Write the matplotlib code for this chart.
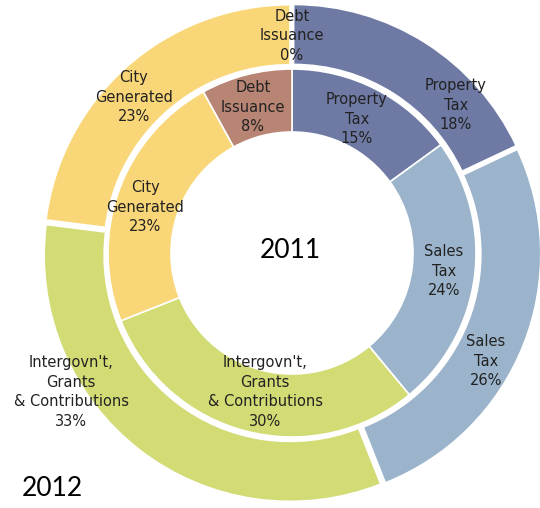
import matplotlib
matplotlib.use("Agg")
import matplotlib.pyplot as plt

# revenue sources, clockwise from 12 o'clock
sources = ["Property\nTax", "Sales\nTax", "Intergovn't,\nGrants\n& Contributions",
           "City\nGenerated", "Debt\nIssuance"]
share_2011 = [15, 24, 30, 23, 8]
share_2012 = [18, 26, 33, 23, 0]
colors = ["#6e7aa3", "#9bb4cc", "#d2db74", "#f9d677", "#b88473"]

# label centres (pixels, from top-left)
pos_2011 = [(357, 119), (444, 271), (265, 392), (145, 207), (253, 107)]
pos_2012 = [(456, 105), (486, 361), (71, 392), (134, 97), (292, 36)]

W, H = 540, 508
fig = plt.figure(figsize=(W / 100, H / 100), dpi=100)
ax = fig.add_axes([0, 0, 1, 1])
ax.set_xlim(0, W)
ax.set_ylim(0, H)
ax.set_aspect("equal")
ax.axis("off")

cx, cy = 292, H - 253

# outer ring = 2012, slices pulled out a little
ax.pie(share_2012, colors=colors, startangle=90, counterclock=False,
       radius=246, center=(cx, cy), explode=[3] * len(share_2012),
       wedgeprops=dict(width=60, edgecolor="white", linewidth=1.2))

# inner ring = 2011
ax.pie(share_2011, colors=colors, startangle=90, counterclock=False,
       radius=184, center=(cx, cy),
       wedgeprops=dict(width=63, edgecolor="white", linewidth=1.2))

ax.set_xlim(0, W)
ax.set_ylim(0, H)

for name, v, (x, y) in zip(sources, share_2011, pos_2011):
    ax.text(x, H - y, f"{name}\n{v}%", ha="center", va="center",
            fontsize=10.5, color="#222222", linespacing=1.38)
for name, v, (x, y) in zip(sources, share_2012, pos_2012):
    ax.text(x, H - y, f"{name}\n{v}%", ha="center", va="center",
            fontsize=10.5, color="#222222", linespacing=1.38)

ax.text(290, H - 250, "2011", ha="center", va="center", fontsize=19,
        family="Lato", color="black")
ax.text(52, H - 488, "2012", ha="center", va="center", fontsize=19,
        family="Lato", color="black")

fig.savefig("out.png", dpi=100)
